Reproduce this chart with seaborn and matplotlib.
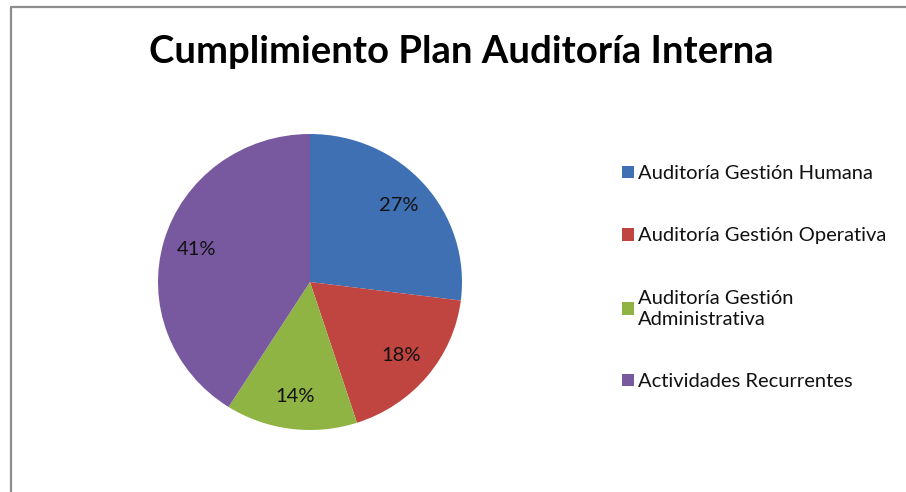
import matplotlib
matplotlib.use("Agg")
import matplotlib.pyplot as plt
import seaborn as sns
from matplotlib.lines import Line2D

# data
categories = [
    "Auditoría Gestión Humana",
    "Auditoría Gestión Operativa",
    "Auditoría Gestión\nAdministrativa",
    "Actividades Recurrentes",
]
values = [27, 18, 14, 41]
colors = ["#3f70b3", "#c0443f", "#90b444", "#7859a0"]

sns.set_theme(style="white")
plt.rcParams["font.family"] = ["Lato", "DejaVu Sans"]

fig = plt.figure(figsize=(9.06, 4.92), dpi=100)
W, H = 906, 492

# pie centred at ~(310, 282) px, radius ~150 px
ax = fig.add_axes([(310 - 152) / W, (H - 282 - 148) / H, 304 / W, 296 / H])
wedges, texts, autotexts = ax.pie(
    values,
    colors=colors,
    startangle=90,
    counterclock=False,
    autopct="%1.0f%%",
    pctdistance=0.78,
    wedgeprops=dict(linewidth=0),
    textprops=dict(fontsize=14.5, color="#111111"),
)
ax.set_xlim(-1, 1)
ax.set_ylim(-1, 1)
ax.set_aspect("auto")
ax.axis("off")

fig.suptitle("Cumplimiento Plan Auditoría Interna", x=461 / W, y=1 - 52 / H,
             va="center", fontsize=27.5, fontweight="bold", color="black")

leg = fig.legend(wedges, categories, loc="upper left",
                 bbox_to_anchor=(614 / W, 1 - 157 / H), frameon=False,
                 fontsize=14.5, labelspacing=2.25, handlelength=0.6,
                 handleheight=0.6, handletextpad=0.2, borderaxespad=0)
for t in leg.get_texts():
    t.set_color("#111111")
    t.set_linespacing(1.3)

# chart-area border (left and top edges visible)
fig.add_artist(Line2D([11 / W, 11 / W], [0, 1 - 7 / H], transform=fig.transFigure,
                      color="#8c8c8c", linewidth=1.6))
fig.add_artist(Line2D([11 / W, 1], [1 - 7 / H, 1 - 7 / H], transform=fig.transFigure,
                      color="#8c8c8c", linewidth=1.6))

fig.savefig("out.png", dpi=100, facecolor="white")
